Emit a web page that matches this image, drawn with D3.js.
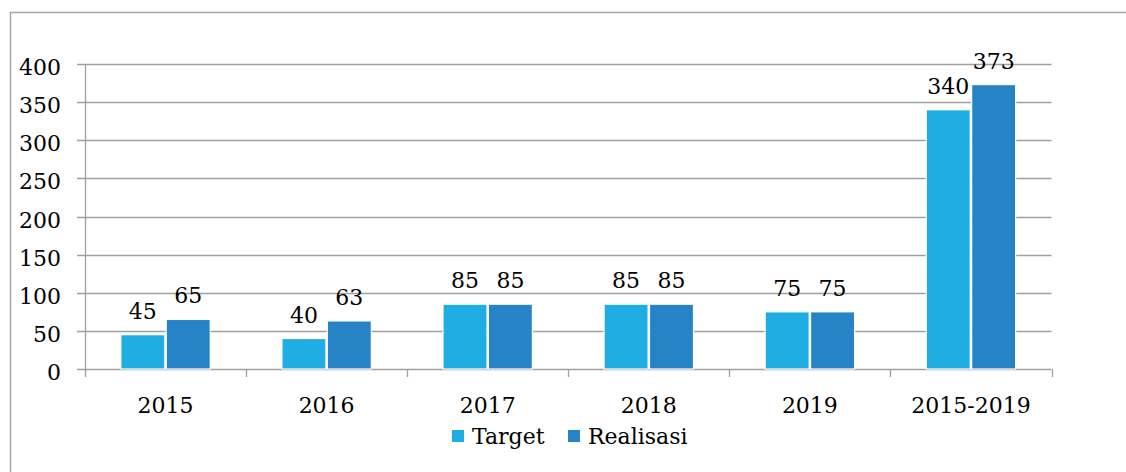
<!DOCTYPE html>
<html><head><meta charset="utf-8">
<script src="https://cdn.jsdelivr.net/npm/d3@7"></script>
<style>
html,body{margin:0;padding:0;background:#fff;}
svg{display:block;}
text{font-family:"DejaVu Serif","Liberation Serif",serif;fill:#000;}
</style></head>
<body>
<script>
const categories = ["2015","2016","2017","2018","2019","2015-2019"];
const seriesNames = ["Target","Realisasi"];
const target = [45,40,85,85,75,340];
const realisasi = [65,63,85,85,75,373];
const yTicks = [0,50,100,150,200,250,300,350,400];
const colors = ["#1FADE4","#2683C6"];

(function(){
const W = 1126, H = 472;
const svg = d3.select("body").append("svg").attr("width",W).attr("height",H);

// outer border (right and bottom edges lie outside the picture)
svg.append("path").attr("d","M10.5,480V12.5H1140")
  .attr("fill","none").attr("stroke","#a6a6a6").attr("stroke-width",1.5);

const pLeft = 85, pRight = 1051.5, pTop = 64, pBottom = 369;
const y = d3.scaleLinear().domain([0,400]).range([pBottom, pTop]);
const x0 = d3.scaleBand().domain(categories).range([pLeft, pRight]).paddingInner(0).paddingOuter(0);
const x1 = d3.scaleBand().domain(seriesNames).range([0, x0.bandwidth()]).paddingOuter(0.79).paddingInner(0.03);

// gridlines
svg.append("g").selectAll("line").data(yTicks).join("line")
  .attr("x1",77).attr("x2",pRight).attr("y1",d=>Math.round(y(d))+0.5).attr("y2",d=>Math.round(y(d))+0.5)
  .attr("stroke","#a0a0a0").attr("stroke-width",1.3);

// y axis line
svg.append("line").attr("x1",pLeft+0.5).attr("x2",pLeft+0.5).attr("y1",pTop).attr("y2",pBottom+0.5)
  .attr("stroke","#a0a0a0").attr("stroke-width",1.3);

// x ticks at boundaries
const bounds = categories.map(c=>x0(c)).concat([pRight]);
svg.append("g").selectAll("line").data(bounds).join("line")
  .attr("x1",d=>Math.round(d)+0.5).attr("x2",d=>Math.round(d)+0.5).attr("y1",pBottom).attr("y2",pBottom+8)
  .attr("stroke","#a0a0a0").attr("stroke-width",1.3);

// y tick labels
svg.append("g").selectAll("text").data(yTicks).join("text")
  .attr("x",61).attr("y",d=>y(d)+11).attr("text-anchor","end").attr("font-size",22).text(d=>d);

// bars
const data = categories.map((c,i)=>({cat:c, vals:[target[i], realisasi[i]]}));
const groups = svg.append("g").selectAll("g").data(data).join("g")
  .attr("transform",d=>`translate(${x0(d.cat)},0)`);
groups.selectAll("rect").data(d=>d.vals.map((v,j)=>({s:seriesNames[j], v, j}))).join("rect")
  .attr("x",d=>x1(d.s)).attr("width",x1.bandwidth())
  .attr("y",d=>y(d.v)).attr("height",d=>y(0)-y(d.v))
  .attr("fill",d=>colors[d.j]).attr("stroke","#fff").attr("stroke-width",1.2);
groups.selectAll("text").data(d=>d.vals.map((v,j)=>({s:seriesNames[j], v, j}))).join("text")
  .attr("x",d=>x1(d.s)+x1.bandwidth()/2).attr("y",d=>y(d.v)-16)
  .attr("text-anchor","middle").attr("font-size",22).text(d=>d.v);

// category labels
svg.append("g").selectAll("text").data(categories).join("text")
  .attr("x",d=>x0(d)+x0.bandwidth()/2).attr("y",413)
  .attr("text-anchor","middle").attr("font-size",22).text(d=>d);

// legend
const legX = [452, 568];
const leg = svg.append("g").selectAll("g").data(seriesNames).join("g")
  .attr("transform",(d,i)=>`translate(${legX[i]},0)`);
leg.append("rect").attr("x",0).attr("y",430).attr("width",12).attr("height",12)
  .attr("fill",(d,i)=>colors[i]);
leg.append("text").attr("x",20).attr("y",444).attr("font-size",22).text(d=>d);
})();
</script>
</body></html>
